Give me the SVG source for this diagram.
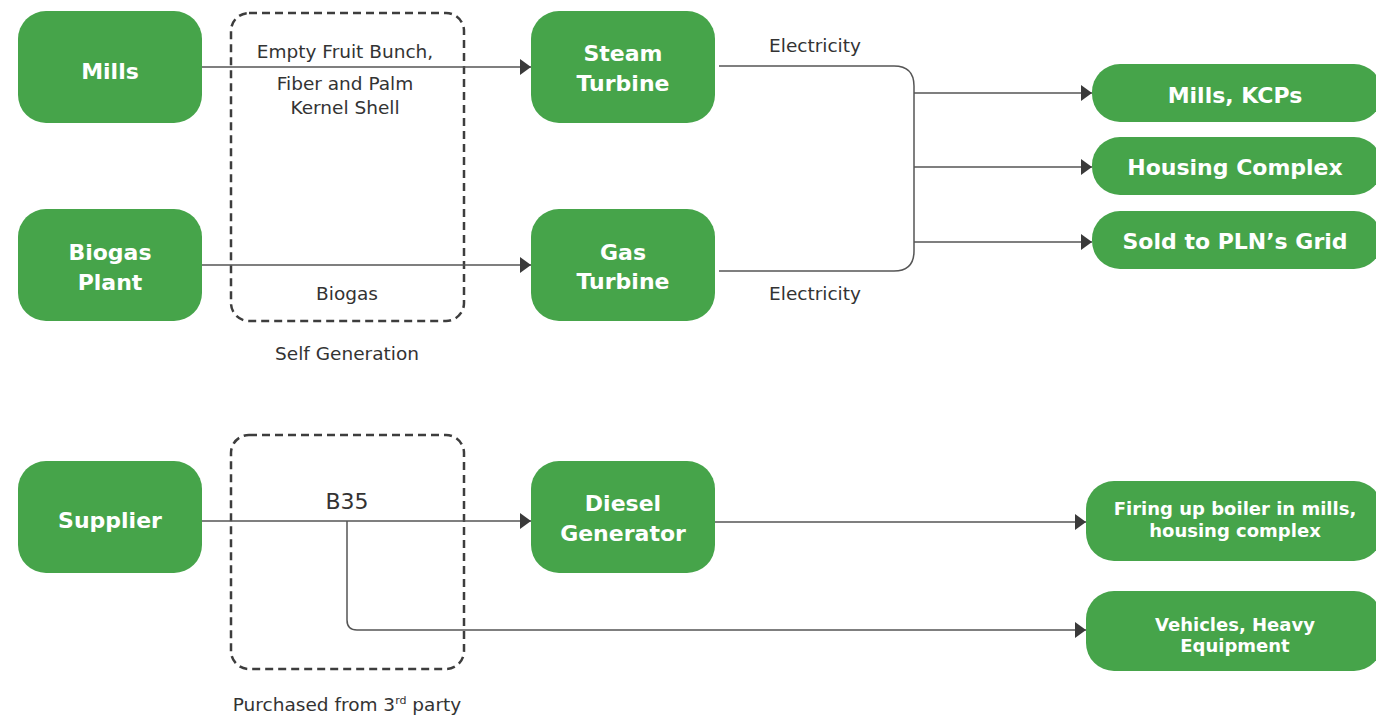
<svg xmlns="http://www.w3.org/2000/svg" width="1376" height="717" viewBox="0 0 1376 717">
<style>
.node{fill:#46A44A;}
.nt{font-family:"DejaVu Sans","Liberation Sans",sans-serif;font-weight:bold;fill:#ffffff;text-anchor:middle;}
.lbl{font-family:"DejaVu Sans","Liberation Sans",sans-serif;fill:#333333;text-anchor:middle;font-size:18.5px;}
.big{font-size:22px;}
.dash{fill:none;stroke:#3d3d3d;stroke-width:2.5;stroke-dasharray:8 5;}
.ln{fill:none;stroke:#555555;stroke-width:1.5;}
</style>
<defs>
<marker id="ah" markerUnits="userSpaceOnUse" markerWidth="12" markerHeight="16" refX="11" refY="8" orient="auto">
<path d="M0,0 L11,8 L0,16 z" fill="#3a3a3a"/>
</marker>
</defs>
<rect width="1376" height="717" fill="#ffffff"/>

<g id="groups">
<rect class="dash" x="231" y="13" width="233" height="308" rx="18"/>
<rect class="dash" x="231" y="435" width="233" height="234" rx="18"/>
<text class="lbl" x="347" y="360">Self Generation</text>
<text class="lbl" x="347" y="711">Purchased from 3<tspan font-size="11" dy="-7">rd</tspan><tspan dy="7"> party</tspan></text>
</g>

<g id="connectors">
<path class="ln" d="M202,67 H531" marker-end="url(#ah)"/>
<path class="ln" d="M202,265 H531" marker-end="url(#ah)"/>
<path class="ln" d="M719,66 H894 Q914,66 914,86 V251 Q914,271 894,271 H719"/>
<path class="ln" d="M914,93 H1092" marker-end="url(#ah)"/>
<path class="ln" d="M914,167 H1092" marker-end="url(#ah)"/>
<path class="ln" d="M914,242 H1092" marker-end="url(#ah)"/>
<path class="ln" d="M202,521 H531" marker-end="url(#ah)"/>
<path class="ln" d="M347,521 V620 Q347,630 357,630 H1086" marker-end="url(#ah)"/>
<path class="ln" d="M715,522 H1086" marker-end="url(#ah)"/>
<text class="lbl" x="345" y="58">Empty Fruit Bunch,</text>
<text class="lbl" x="345" y="90">Fiber and Palm</text>
<text class="lbl" x="345" y="114">Kernel Shell</text>
<text class="lbl" x="347" y="300">Biogas</text>
<text class="lbl" x="815" y="52">Electricity</text>
<text class="lbl" x="815" y="300">Electricity</text>
<text class="lbl big" x="347" y="509">B35</text>
</g>

<g id="mills">
<rect class="node" x="18" y="11" width="184" height="112" rx="28"/>
<text class="nt" x="110" y="79" font-size="22">Mills</text>
</g>
<g id="biogas-plant">
<rect class="node" x="18" y="209" width="184" height="112" rx="28"/>
<text class="nt" x="110" y="260" font-size="22">Biogas</text>
<text class="nt" x="110" y="290" font-size="22">Plant</text>
</g>
<g id="steam-turbine">
<rect class="node" x="531" y="11" width="184" height="112" rx="28"/>
<text class="nt" x="623" y="61" font-size="22">Steam</text>
<text class="nt" x="623" y="91" font-size="22">Turbine</text>
</g>
<g id="gas-turbine">
<rect class="node" x="531" y="209" width="184" height="112" rx="28"/>
<text class="nt" x="623" y="260" font-size="22">Gas</text>
<text class="nt" x="623" y="289" font-size="22">Turbine</text>
</g>
<g id="mills-kcps">
<rect class="node" x="1092" y="64" width="290" height="58" rx="28"/>
<text class="nt" x="1235" y="103" font-size="22">Mills, KCPs</text>
</g>
<g id="housing-complex">
<rect class="node" x="1092" y="137" width="290" height="58" rx="28"/>
<text class="nt" x="1235" y="175" font-size="22">Housing Complex</text>
</g>
<g id="sold-pln">
<rect class="node" x="1092" y="211" width="290" height="58" rx="28"/>
<text class="nt" x="1235" y="249" font-size="22">Sold to PLN’s Grid</text>
</g>
<g id="supplier">
<rect class="node" x="18" y="461" width="184" height="112" rx="28"/>
<text class="nt" x="110" y="528" font-size="22">Supplier</text>
</g>
<g id="diesel-generator">
<rect class="node" x="531" y="461" width="184" height="112" rx="28"/>
<text class="nt" x="623" y="511" font-size="22">Diesel</text>
<text class="nt" x="623" y="541" font-size="22">Generator</text>
</g>
<g id="firing-up">
<rect class="node" x="1086" y="481" width="296" height="80" rx="28"/>
<text class="nt" x="1235" y="515" font-size="18">Firing up boiler in mills,</text>
<text class="nt" x="1235" y="537" font-size="18">housing complex</text>
</g>
<g id="vehicles">
<rect class="node" x="1086" y="591" width="296" height="80" rx="28"/>
<text class="nt" x="1235" y="631" font-size="18">Vehicles, Heavy</text>
<text class="nt" x="1235" y="652" font-size="18">Equipment</text>
</g>
</svg>
